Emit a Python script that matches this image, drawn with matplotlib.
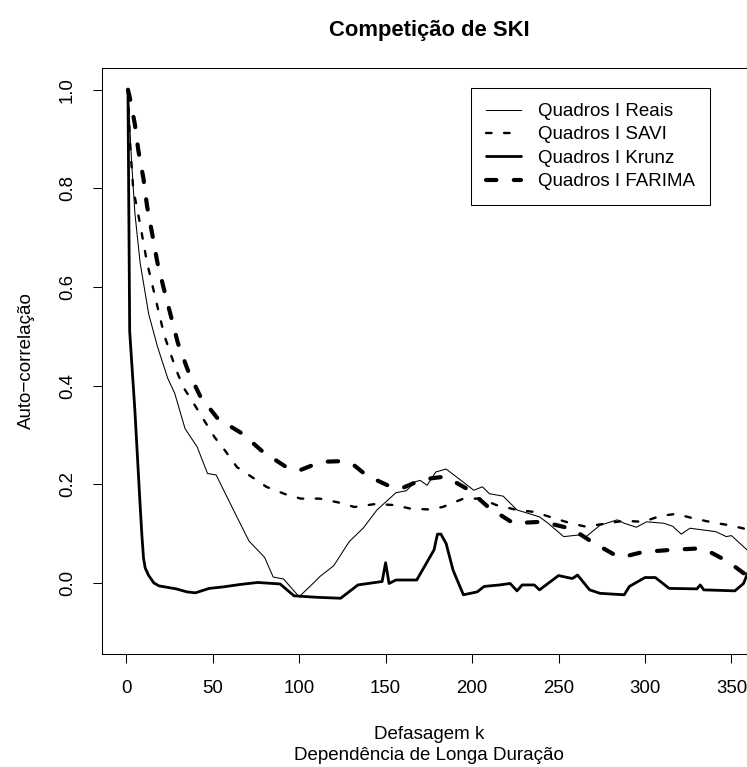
import matplotlib
matplotlib.use("Agg")
import matplotlib.pyplot as plt

plt.rcParams['font.family'] = ['Liberation Sans', 'DejaVu Sans']
plt.rcParams['lines.scale_dashes'] = False

# Autocorrelation by lag for each frame-size series
lag_reais = [1, 3, 5, 8, 13, 18, 24, 28, 34, 41, 47, 52, 63, 71, 80, 85, 91, 100,
             108, 112, 120, 129, 137, 145, 156, 162, 167, 170, 174, 179, 185, 191,
             201, 206, 210, 218, 226, 239, 244, 253, 261, 266, 274, 284, 288, 295,
             301, 311, 316, 321, 326, 341, 347, 350, 360]
acf_reais = [1.0, 0.86, 0.75, 0.65, 0.545, 0.48, 0.415, 0.385, 0.313, 0.276, 0.222,
             0.219, 0.141, 0.085, 0.052, 0.012, 0.008, -0.028, -0.001, 0.013, 0.035,
             0.084, 0.111, 0.148, 0.183, 0.187, 0.205, 0.208, 0.198, 0.225, 0.231,
             0.215, 0.188, 0.195, 0.181, 0.176, 0.148, 0.134, 0.121, 0.094, 0.097,
             0.094, 0.117, 0.128, 0.121, 0.113, 0.124, 0.121, 0.115, 0.099, 0.111,
             0.104, 0.094, 0.096, 0.064]

lag_savi = [1, 2, 4, 8, 12, 17, 22, 29, 33, 39, 45, 51, 57, 64, 73, 81, 92, 101,
            112, 123, 132, 144, 155, 164, 175, 183, 195, 205, 214, 226, 236, 245,
            257, 266, 278, 288, 299, 309, 318, 328, 340, 349, 360]
acf_savi = [1.0, 0.9, 0.80, 0.728, 0.65, 0.576, 0.502, 0.431, 0.397, 0.364, 0.330,
            0.296, 0.269, 0.235, 0.214, 0.195, 0.180, 0.171, 0.171, 0.163, 0.154,
            0.160, 0.158, 0.151, 0.149, 0.154, 0.171, 0.171, 0.158, 0.148, 0.144,
            0.134, 0.121, 0.114, 0.121, 0.126, 0.124, 0.136, 0.140, 0.131, 0.122,
            0.117, 0.108]

lag_krunz = [1, 2, 5, 8, 9, 10, 11, 13, 16, 19, 29, 35, 40, 48, 56, 66, 76, 89, 97,
             101, 110, 124, 134, 148, 150, 152, 156, 168, 178, 180, 182, 185, 189,
             195, 203, 207, 216, 222, 226, 229, 236, 239, 250, 258, 261, 268, 274,
             288, 291, 300, 306, 314, 330, 332, 334, 352, 357, 360]
acf_krunz = [1.0, 0.51, 0.35, 0.16, 0.10, 0.05, 0.03, 0.015, 0.0, -0.006, -0.012,
             -0.018, -0.020, -0.011, -0.008, -0.003, 0.001, -0.002, -0.026, -0.027,
             -0.029, -0.031, -0.004, 0.003, 0.041, -0.001, 0.006, 0.006, 0.067, 0.099,
             0.099, 0.080, 0.026, -0.024, -0.018, -0.007, -0.004, -0.001, -0.016,
             -0.004, -0.004, -0.014, 0.015, 0.009, 0.016, -0.014, -0.021, -0.024,
             -0.007, 0.011, 0.011, -0.011, -0.012, -0.004, -0.014, -0.016, -0.001,
             0.025]

lag_farima = [1, 2, 5, 7, 10, 12, 15, 18, 22, 26, 30, 36, 43, 53, 67, 79, 93, 100,
              108, 116, 125, 132, 139, 153, 160, 168, 176, 183, 190, 198, 210, 224,
              240, 248, 256, 262, 269, 284, 291, 299, 315, 331, 338, 345, 352, 357, 360]
acf_farima = [1.0, 0.985, 0.93, 0.877, 0.819, 0.765, 0.708, 0.650, 0.593, 0.539,
              0.485, 0.428, 0.377, 0.333, 0.303, 0.266, 0.234, 0.228, 0.239, 0.246,
              0.247, 0.238, 0.218, 0.195, 0.193, 0.205, 0.212, 0.215, 0.205, 0.189,
              0.152, 0.121, 0.124, 0.118, 0.111, 0.100, 0.084, 0.054, 0.056, 0.063,
              0.067, 0.070, 0.062, 0.049, 0.033, 0.020, 0.015]

labels = ['Quadros I Reais', 'Quadros I SAVI', 'Quadros I Krunz', 'Quadros I FARIMA']
x_ticks = [0, 50, 100, 150, 200, 250, 300, 350]
y_ticks = [0.0, 0.2, 0.4, 0.6, 0.8, 1.0]

W, H = 747, 767
fig = plt.figure(figsize=(W / 100, H / 100), dpi=100)
# plot region runs past the right edge of the figure
ax = fig.add_axes([101.5 / W, (H - 654) / H, 655 / W, 586 / H])

ax.plot(lag_reais, acf_reais, color='black', lw=0.75, label=labels[0])
ax.plot(lag_savi, acf_savi, color='black', lw=1.7, dashes=(4.0, 9.0),
        dash_capstyle='round', label=labels[1])
ax.plot(lag_krunz, acf_krunz, color='black', lw=2.0, solid_joinstyle='round',
        solid_capstyle='round', label=labels[2])
ax.plot(lag_farima, acf_farima, color='black', lw=3.0, dashes=(7.5, 12.5),
        dash_capstyle='round', label=labels[3])

ax.set_xlim(-14.3, 364.5)
ax.set_ylim(-0.144, 1.044)
ax.set_xticks(x_ticks)
ax.set_xticklabels([str(t) for t in x_ticks])
ax.set_yticks(y_ticks)
ax.set_yticklabels(['%.1f' % t for t in y_ticks], rotation=90, va='center')
ax.tick_params(axis='both', direction='out', length=6.5, width=0.75,
               labelsize=13.4, pad=12, color='black')
for s in ax.spines.values():
    s.set_linewidth(0.75)
    s.set_color('black')

ax.set_title('Competição de SKI', fontsize=15.8, fontweight='bold', pad=23)
ax.set_xlabel('Defasagem k\nDependência de Longa Duração', fontsize=13.5,
              labelpad=21, linespacing=1.3)
ax.set_ylabel('Auto\u2212correlação', fontsize=13.5, labelpad=17)

leg = ax.legend(loc='upper left', bbox_to_anchor=(471 / W, 1 - 88 / H),
                bbox_transform=fig.transFigure, fontsize=13.5, frameon=True,
                fancybox=False, edgecolor='black', framealpha=1,
                borderpad=0.8, handlelength=1.87, handletextpad=0.9,
                labelspacing=0.33, borderaxespad=0)
leg.get_frame().set_linewidth(0.75)

fig.savefig('out.png', dpi=100)
